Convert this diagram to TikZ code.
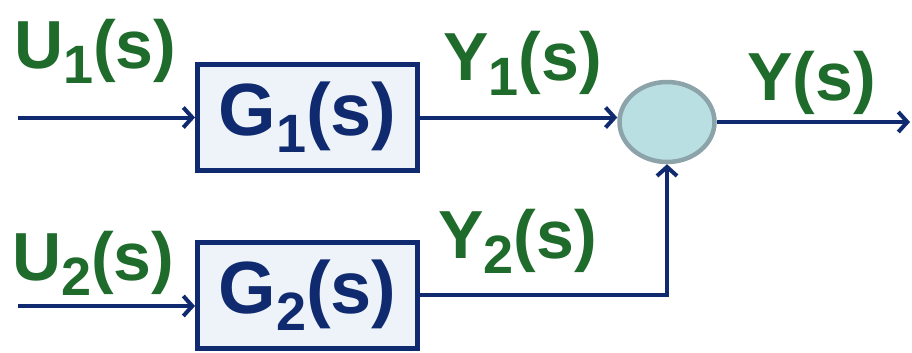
\documentclass[tikz,border=0pt]{standalone}
\usepackage{fontspec}
\setmainfont{Liberation Sans}
\usetikzlibrary{arrows.meta,shapes.geometric}
\definecolor{lblgreen}{HTML}{1E6B2C}
\definecolor{navy}{HTML}{0F2A6E}
\definecolor{boxfill}{HTML}{EEF3FA}
\definecolor{sumfill}{HTML}{B9DFE2}
\definecolor{sumedge}{HTML}{8CA3AA}
\newcommand\lsub[1]{\raisebox{-0.23em}{\fontsize{54}{54}\selectfont #1}}
\tikzset{
  lbl/.style={inner sep=0pt, anchor=base west, text=lblgreen, font=\bfseries\fontsize{68}{68}\selectfont},
  blockbox/.style={draw=navy, line width=5pt, fill=boxfill, minimum width=220pt, minimum height=106pt, inner sep=0pt, text=navy, font=\bfseries\fontsize{74}{74}\selectfont},
  sumnode/.style={ellipse, draw=sumedge, line width=4.5pt, fill=sumfill, minimum width=95pt, minimum height=80pt, inner sep=0pt},
  arr/.style={draw=navy, line width=4pt, -{Straight Barb[length=9pt,width=20pt,line width=4pt]}},
}
\begin{document}
\begin{tikzpicture}[x=1pt,y=-1pt]
\useasboundingbox (0,0) rectangle (912,353);
\node[blockbox] (g1) at (307.5,117.5) {G\lsub{1}(s)};
\node[blockbox] (g2) at (307.5,295) {G\lsub{2}(s)};
\node[sumnode] (sum) at (667,122) {};
\coordinate (in1) at (18,117.5);
\coordinate (in2) at (18,306);
\coordinate (out) at (910,122);
\node[lbl] (u1) at (14,68) {U\lsub{1}(s)};
\node[lbl] (u2) at (12,280) {U\lsub{2}(s)};
\node[lbl] (y1) at (443,80) {Y\lsub{1}(s)};
\node[lbl] (y2) at (438,258) {Y\lsub{2}(s)};
\node[lbl] (y) at (747,100) {Y(s)};
\draw[arr] (in1) -- (in1 -| g1.west);
\draw[arr] (in2) -- (in2 -| g2.west);
\draw[arr] (g1.east) -- (g1.east -| sum.west);
\draw[arr] (g2.east) -| (sum.south);
\draw[arr] (sum.east) -- (out);
\end{tikzpicture}
\end{document}
